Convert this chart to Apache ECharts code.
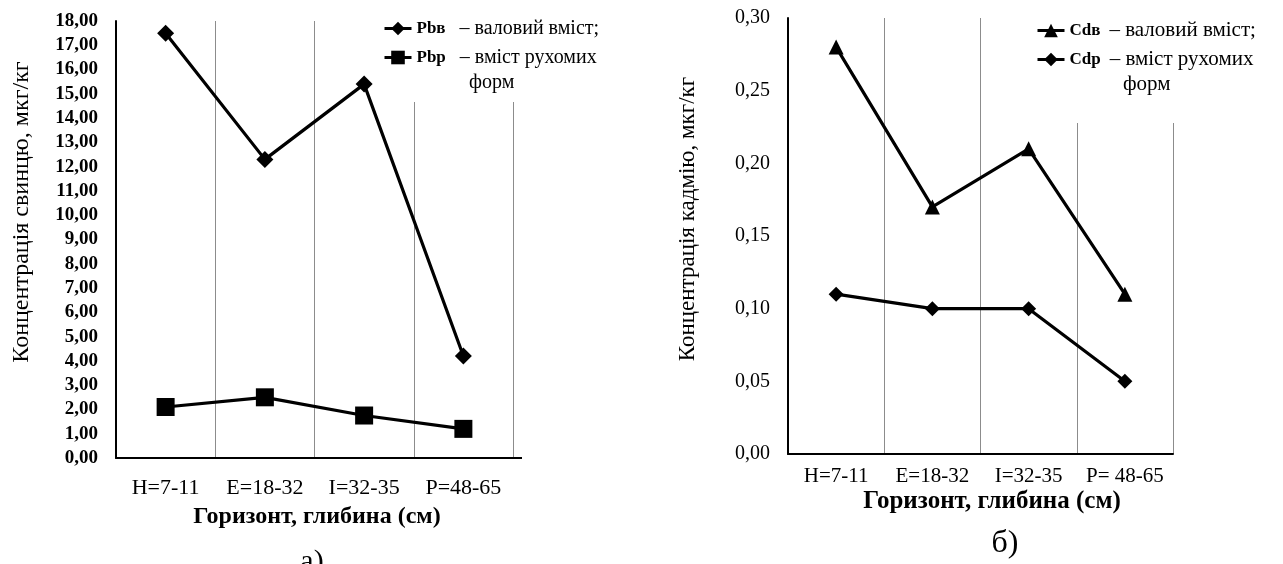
<!DOCTYPE html>
<html>
<head>
<meta charset="utf-8">
<script src="https://cdn.jsdelivr.net/npm/echarts@6/dist/echarts.min.js"></script>
<style>
html,body{margin:0;padding:0;background:#fff;}
#chart{width:1283px;height:564px;}
</style>
</head>
<body>
<div id="chart"></div>
<script>
// ---- data ----
const categoriesPb = ['H=7-11', 'E=18-32', 'I=32-35', 'P=48-65'];
const categoriesCd = ['H=7-11', 'E=18-32', 'I=32-35', 'P= 48-65'];
const pbTotal = [17.5, 12.3, 15.4, 4.2];     // Pbв – валовий вміст
const pbMobile = [2.1, 2.5, 1.75, 1.2];      // Pbp – вміст рухомих форм
const cdTotal = [0.28, 0.17, 0.21, 0.11];    // Cdв – валовий вміст
const cdMobile = [0.11, 0.10, 0.10, 0.05];   // Cdp – вміст рухомих форм
const pbAxis = {min: 0, max: 18, interval: 1};
const cdAxis = {min: 0, max: 0.30, interval: 0.05};
const legendPb = {'Pbв': '– валовий вміст;', 'Pbp': '– вміст рухомих'};
const legendCd = {'Cdв': '– валовий вміст;', 'Cdp': '– вміст рухомих'};

const FF = '"Liberation Serif", "Times New Roman", serif';
const fmt = v => v.toFixed(2).replace('.', ',');

const chart = echarts.init(document.getElementById('chart'), null, {renderer: 'canvas'});

function xAxisCfg(gridIndex, cats, fontSize, margin) {
  return {
    type: 'category', gridIndex: gridIndex, data: cats, boundaryGap: true,
    axisLine: {lineStyle: {color: '#000', width: 2}},
    axisTick: {show: false, interval: 0},
    axisLabel: {fontFamily: FF, fontSize: fontSize, color: '#000', margin: margin, interval: 0},
    splitLine: {show: true, interval: 0, lineStyle: {color: '#8c8c8c', width: 1}}
  };
}
function yAxisCfg(gridIndex, ax, fontSize, fontWeight) {
  return {
    type: 'value', gridIndex: gridIndex, min: ax.min, max: ax.max, interval: ax.interval,
    axisLine: {show: true, lineStyle: {color: '#000', width: 2}},
    axisTick: {show: false},
    splitLine: {show: false},
    axisLabel: {fontFamily: FF, fontSize: fontSize, fontWeight: fontWeight, color: '#000', margin: 18, formatter: fmt}
  };
}
function lineSeries(name, xi, data, symbol, size) {
  return {
    name: name, type: 'line', xAxisIndex: xi, yAxisIndex: xi, data: data,
    symbol: symbol, symbolSize: size,
    lineStyle: {color: '#000', width: 3.2},
    itemStyle: {color: '#000'},
    emphasis: {disabled: true}
  };
}
function legendCfg(names, texts, left, top, padding, gapPx, fs) {
  return {
    orient: 'vertical', left: left, top: top, data: names,
    itemWidth: 27, itemHeight: 17, itemGap: 6,
    backgroundColor: '#fff', padding: padding,
    lineStyle: {width: 3, color: '#000'},
    formatter: n => '{b|' + n + '}{g|}' + texts[n],
    textStyle: {fontFamily: FF, fontSize: fs, color: '#000', lineHeight: 23,
      rich: {b: {fontFamily: FF, fontSize: 17, fontWeight: 'bold', color: '#000'},
             g: {width: gapPx}}}
  };
}
function txt(x, y, text, size, weight, rot) {
  return {type: 'text', x: x, y: y, rotation: rot || 0, z: 100,
    style: {text: text, fontFamily: FF, fontSize: size, fontWeight: weight || 'normal',
      fill: '#000', align: 'center', verticalAlign: 'middle'}};
}

chart.setOption({
  animation: false,
  backgroundColor: '#fff',
  grid: [
    {left: 116, top: 21, width: 397, height: 437},
    {left: 788, top: 18, width: 385, height: 436}
  ],
  xAxis: [xAxisCfg(0, categoriesPb, 22, 19), xAxisCfg(1, categoriesCd, 21, 12)],
  yAxis: [yAxisCfg(0, pbAxis, 19, 'bold'), yAxisCfg(1, cdAxis, 20, 'normal')],
  legend: [
    legendCfg(['Pbв', 'Pbp'], legendPb, 379, 13, [4, 20, 33, 4], 14, 20),
    legendCfg(['Cdв', 'Cdp'], legendCd, 1032, 15, [4, 5, 52, 4], 9, 21)
  ],
  series: [
    lineSeries('Pbв', 0, pbTotal, 'diamond', 17),
    lineSeries('Pbp', 0, pbMobile, 'rect', 18),
    lineSeries('Cdв', 1, cdTotal, 'triangle', 15),
    lineSeries('Cdp', 1, cdMobile, 'diamond', 15)
  ],
  graphic: [
    txt(22, 212, 'Концентрація свинцю, мкг/кг', 24, 'normal', Math.PI / 2),
    txt(688, 219, 'Концентрація кадмію, мкг/кг', 23, 'normal', Math.PI / 2),
    txt(317, 517, 'Горизонт, глибина (см)', 24, 'bold'),
    txt(992, 502, 'Горизонт, глибина (см)', 25, 'bold'),
    txt(312, 562, 'а)', 30),
    txt(1005, 544, 'б)', 32),
    {type: 'text', x: 469, y: 83, z: 100, style: {text: 'форм', fontFamily: FF, fontSize: 20, fill: '#000', align: 'left', verticalAlign: 'middle'}},
    {type: 'text', x: 1123, y: 84, z: 100, style: {text: 'форм', fontFamily: FF, fontSize: 21, fill: '#000', align: 'left', verticalAlign: 'middle'}},
    {type: 'line', z: 1, shape: {x1: 513, y1: 458, x2: 522, y2: 458}, style: {stroke: '#000', lineWidth: 2}}
  ]
});
</script>
</body>
</html>
